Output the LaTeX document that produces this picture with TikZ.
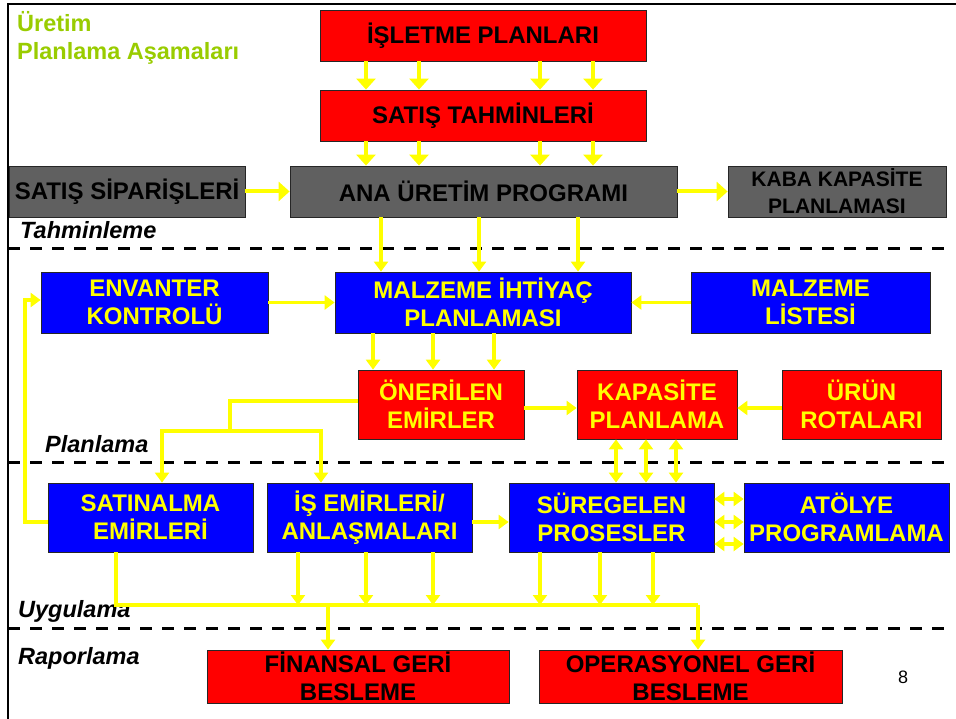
\documentclass[tikz,border=0pt]{standalone}
\usepackage{fontspec}
\setmainfont{Liberation Sans}
\usetikzlibrary{arrows.meta}
\definecolor{boxred}{RGB}{255,0,0}
\definecolor{boxblue}{RGB}{0,0,255}
\definecolor{boxgray}{RGB}{96,96,96}
\definecolor{flowyellow}{RGB}{255,255,0}
\definecolor{titlegreen}{RGB}{153,204,0}
\tikzset{
  box/.style={draw=black!85, line width=0.8pt, inner sep=0pt, align=center,
    font=\bfseries\fontsize{24}{28}\selectfont},
  redbox/.style={box, fill=boxred, text=black},
  redyel/.style={box, fill=boxred, text=flowyellow},
  bluebox/.style={box, fill=boxblue, text=flowyellow},
  graybox/.style={box, fill=boxgray, text=black},
  bigflow/.style={draw=flowyellow, line width=4pt, -{Triangle[width=19pt,length=11pt]}},
  flow/.style={draw=flowyellow, line width=3.5pt, -{Triangle[width=14pt,length=10pt]}},
  plainflow/.style={draw=flowyellow, line width=3.5pt},
  twoway/.style={draw=flowyellow, line width=3.5pt, {Triangle[width=14pt,length=10pt]}-{Triangle[width=14pt,length=10pt]}},
  phase/.style={font=\bfseries\itshape\fontsize{23.5}{28}\selectfont, anchor=base west, inner sep=0pt},
  divider/.style={draw=black, line width=3pt, dash pattern=on 12pt off 10pt}
}
\begin{document}
\begin{tikzpicture}[x=1pt, y=-1pt]
\useasboundingbox (0,0) rectangle (956,719);
\fill[white] (0,0) rectangle (956,719);

% frame
\draw[black, line width=2pt] (8,719) -- (8,4) -- (956,4);

% title
\node[anchor=base west, inner sep=0pt, text=titlegreen, font=\bfseries\fontsize{23.5}{28}\selectfont] (t1) at (17,32) {Üretim};
\node[anchor=base west, inner sep=0pt, text=titlegreen, font=\bfseries\fontsize{23.5}{28}\selectfont] (t2) at (17,60) {Planlama Aşamaları};

% phase dividers
\draw[divider] (8,249) -- (948,249);
\draw[divider] (8,462) -- (948,462);
\draw[divider] (8,628) -- (948,628);

% phase labels
\node[phase] (lt) at (20,239) {Tahminleme};
\node[phase] (lp) at (45,452) {Planlama};
\node[phase] (lu) at (18,617) {Uygulama};
\node[phase] (lr) at (18,664) {Raporlama};

% forecasting
\node[redbox, minimum width=326pt, minimum height=51pt] (isl) at (483,35.5) {İŞLETME PLANLARI};
\node[redbox, minimum width=326pt, minimum height=51pt] (sth) at (483,115.5) {SATIŞ TAHMİNLERİ};
\node[graybox, minimum width=387pt, minimum height=51pt] (ana) at (483.5,191.5) {ANA ÜRETİM PROGRAMI};
\node[graybox, minimum width=236pt, minimum height=51pt] (sip) at (127,191.5) {SATIŞ SİPARİŞLERİ};
\node[graybox, minimum width=218pt, minimum height=51pt, font=\bfseries\fontsize{21}{27}\selectfont] (kaba) at (837,191.5) {KABA KAPASİTE\\PLANLAMASI};

% planning
\node[bluebox, minimum width=227pt, minimum height=61pt] (env) at (154.5,302.5) {ENVANTER\\KONTROLÜ};
\node[bluebox, minimum width=296pt, minimum height=61pt] (mrp) at (483,302.5) {MALZEME İHTİYAÇ\\PLANLAMASI};
\node[bluebox, minimum width=239pt, minimum height=61pt] (mlist) at (810.5,302.5) {MALZEME\\LİSTESİ};
\node[redyel, minimum width=166pt, minimum height=69pt] (oner) at (441,404.5) {ÖNERİLEN\\EMİRLER};
\node[redyel, minimum width=160pt, minimum height=69pt] (kap) at (657,404.5) {KAPASİTE\\PLANLAMA};
\node[redyel, minimum width=159pt, minimum height=69pt] (urun) at (861.5,404.5) {ÜRÜN\\ROTALARI};

% execution
\node[bluebox, minimum width=205pt, minimum height=69pt] (satin) at (150.5,517.5) {SATINALMA\\EMİRLERİ};
\node[bluebox, minimum width=205pt, minimum height=69pt] (isem) at (369.5,517.5) {İŞ EMİRLERİ/\\ANLAŞMALARI};
\node[bluebox, minimum width=205pt, minimum height=69pt] (sure) at (611.5,517.5) {SÜREGELEN\\PROSESLER};
\node[bluebox, minimum width=205pt, minimum height=69pt] (atol) at (846.5,517.5) {ATÖLYE\\PROGRAMLAMA};

% reporting
\node[redbox, minimum width=302pt, minimum height=53pt] (fin) at (358,676.5) {FİNANSAL GERİ\\BESLEME};
\node[redbox, minimum width=303pt, minimum height=53pt] (ops) at (690.5,676.5) {OPERASYONEL GERİ\\BESLEME};

\node[anchor=base, inner sep=0pt, font=\fontsize{18}{20}\selectfont] (pg) at (903,683) {8};

% business plans -> forecasts -> master schedule
\foreach \x in {366,419,540,593} {
  \draw[bigflow] (isl.south -| \x,0) -- (sth.north -| \x,0);
  \draw[bigflow] (sth.south -| \x,0) -- (ana.north -| \x,0);
}
\draw[bigflow] (sip.east) -- (ana.west);
\draw[bigflow] (ana.east) -- (kaba.west);

% master schedule -> MRP
\foreach \x in {381,479,578}
  \draw[flow] (ana.south -| \x,0) -- (mrp.north -| \x,0);
\draw[flow] (env.east) -- (mrp.west);
\draw[flow] (mlist.west) -- (mrp.east);

% MRP -> planned orders
\foreach \x in {373,433,494}
  \draw[flow] (mrp.south -| \x,0) -- (oner.north -| \x,0);
\draw[flow] (oner.east |- 0,408) -- (kap.west |- 0,408);
\draw[flow] (urun.west |- 0,408) -- (kap.east |- 0,408);

% planned orders released to execution
\draw[plainflow] (oner.west |- 0,401) -| (230,431) coordinate (split);
\draw[flow] (split) -| (satin.north -| 162,0);
\draw[flow] (split) -| (isem.north -| 321,0);

% capacity planning <-> running processes
\foreach \x in {616,646,676}
  \draw[twoway] (kap.south -| \x,0) -- (sure.north -| \x,0);

% purchase orders feed back to inventory control
\draw[flow] (satin.west |- 0,522) -| (25,300) -- (env.west |- 0,300);

\draw[flow] (isem.east |- 0,522) -- (sure.west |- 0,522);
\foreach \y in {499,522,544}
  \draw[twoway] (sure.east |- 0,\y) -- (atol.west |- 0,\y);

% collection bus towards reporting
\coordinate (busL) at (116,605);
\coordinate (busF) at (328,605);
\coordinate (busR) at (698,605);
\draw[plainflow] (satin.south -| busL) -- (busL) -- (busR);
\draw[flow] (busR) -- (ops.north -| busR);
\draw[flow] (busF) -- (fin.north -| busF);
\foreach \x in {298,366,433}
  \draw[flow] (isem.south -| \x,0) -- (\x,605);
\foreach \x in {540,600,653}
  \draw[flow] (sure.south -| \x,0) -- (\x,605);
\end{tikzpicture}
\end{document}
